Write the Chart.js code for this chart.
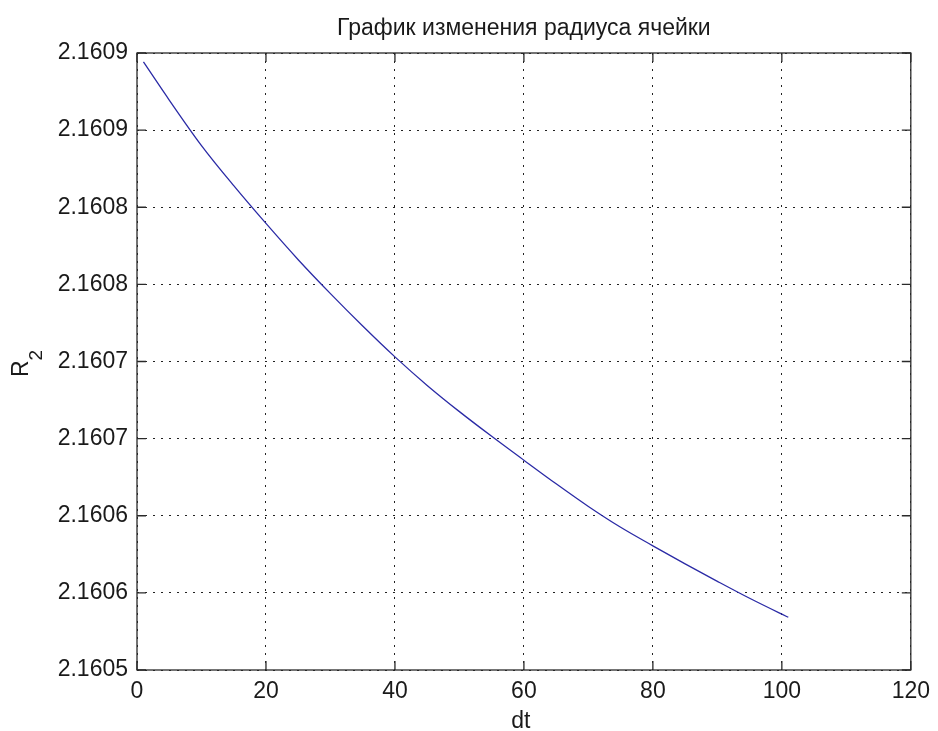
<!DOCTYPE html>
<html>
<head>
<meta charset="utf-8">
<script src="https://cdn.jsdelivr.net/npm/chart.js@4/dist/chart.umd.min.js"></script>
<style>
  html,body{ margin:0; padding:0; background:#fff; }
  #wrap{ width:938px; height:731px; }
</style>
</head>
<body>
<div id="wrap"><canvas id="chartR2" width="938" height="731"></canvas></div>
<script>
// dados
const dtValues = [1, 5, 10, 15, 20, 25, 30, 35, 40, 45, 50, 55, 60, 65, 70, 75, 80, 85, 90, 95, 100, 101];
const r2Values = [2.1608942, 2.1608695, 2.1608400, 2.1608140, 2.1607895, 2.1607660, 2.1607440, 2.1607230,
                  2.1607030, 2.1606845, 2.1606675, 2.1606515, 2.1606360, 2.1606207, 2.1606060, 2.1605925,
                  2.1605805, 2.1605688, 2.1605575, 2.1605465, 2.1605362, 2.1605342];

const xTickValues = [0, 20, 40, 60, 80, 100, 120];
const yTickValues = [2.16050, 2.16055, 2.16060, 2.16065, 2.16070, 2.16075, 2.16080, 2.16085, 2.16090];
const yTickLabels = ['2.1605', '2.1606', '2.1606', '2.1607', '2.1607', '2.1608', '2.1608', '2.1609', '2.1609'];

const titleText = 'График изменения радиуса ячейки';
const xLabel = 'dt';
const yLabel = 'R';
const yLabelSub = '2';

const FONT = '"Liberation Sans", Arial, sans-serif';
const INK = '#1a1a1a';

// moldura + ticks internos + textos (estilo matlab)
const matlabFrame = {
  id:'matlabFrame',
  afterDraw(chart){
    const {ctx, chartArea:a, scales} = chart;
    const tl = 9;
    ctx.save();
    ctx.strokeStyle = '#2a2a2a';
    ctx.lineWidth = 1.3;
    ctx.strokeRect(a.left, a.top, a.right - a.left, a.bottom - a.top);
    ctx.beginPath();
    scales.x.ticks.forEach(t=>{
      const px = scales.x.getPixelForValue(t.value);
      ctx.moveTo(px, a.bottom); ctx.lineTo(px, a.bottom - tl);
      ctx.moveTo(px, a.top); ctx.lineTo(px, a.top + tl);
    });
    scales.y.ticks.forEach(t=>{
      const py = scales.y.getPixelForValue(t.value);
      ctx.moveTo(a.left, py); ctx.lineTo(a.left + tl, py);
      ctx.moveTo(a.right, py); ctx.lineTo(a.right - tl, py);
    });
    ctx.stroke();

    ctx.fillStyle = INK;
    ctx.textBaseline = 'alphabetic';
    ctx.textAlign = 'center';
    ctx.font = '23px ' + FONT;
    const cx = (a.left + a.right) / 2;
    ctx.fillText(titleText, cx, a.top - 18);
    ctx.fillText(xLabel, cx - 3, a.bottom + 58);

    // R com subscrito 2, rotacionado
    const cy = (a.top + a.bottom) / 2 + 2;
    ctx.translate(28, cy);
    ctx.rotate(-Math.PI/2);
    ctx.textAlign = 'left';
    ctx.font = '23px ' + FONT;
    const wR = ctx.measureText(yLabel).width;
    ctx.font = '19px ' + FONT;
    const w2 = ctx.measureText(yLabelSub).width;
    const x0 = -(wR + w2) / 2;
    ctx.font = '23px ' + FONT;
    ctx.fillText(yLabel, x0, 0);
    ctx.font = '19px ' + FONT;
    ctx.fillText(yLabelSub, x0 + wR, 14);
    ctx.restore();
  }
};

const points = dtValues.map((x, i) => ({ x, y: r2Values[i] }));

new Chart(document.getElementById('chartR2').getContext('2d'), {
  type:'line',
  data:{ datasets:[{
    data: points,
    borderColor:'#2b2ba6',
    borderWidth:1.3,
    pointRadius:0,
    fill:false,
    cubicInterpolationMode:'monotone'
  }]},
  options:{
    responsive:false,
    animation:false,
    layout:{ padding:{ left:0, right:22, top:53, bottom:0 } },
    plugins:{ legend:{display:false}, title:{display:false}, tooltip:{enabled:false} },
    scales:{
      x:{
        type:'linear', min:0, max:120,
        afterBuildTicks(s){ s.ticks = xTickValues.map(v=>({value:v})); },
        afterFit(s){ s.height = 61; },
        grid:{ color:'#222', lineWidth:1, drawTicks:false },
        border:{ display:false, dash:[2,6] },
        ticks:{ padding:8, color:INK, font:{ size:23, family:FONT }, callback:(v)=>String(v) }
      },
      y:{
        type:'linear', min:2.16050, max:2.16090,
        afterBuildTicks(s){ s.ticks = yTickValues.map(v=>({value:v})); },
        afterFit(s){ s.width = 137; },
        grid:{ color:'#222', lineWidth:1, drawTicks:false },
        border:{ display:false, dash:[2,6] },
        ticks:{ padding:9, color:INK, font:{ size:23, family:FONT },
          callback:(v, i)=> yTickLabels[i] }
      }
    }
  },
  plugins:[matlabFrame]
});
</script>
</body>
</html>
